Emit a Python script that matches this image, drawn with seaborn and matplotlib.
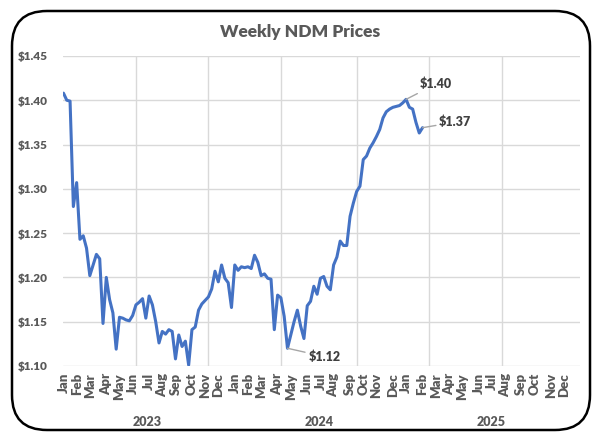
import pandas as pd
import numpy as np
import matplotlib
matplotlib.use("Agg")
import matplotlib.pyplot as plt
import matplotlib.dates as mdates
from matplotlib.ticker import FuncFormatter, FixedLocator
from matplotlib.patches import FancyBboxPatch
import seaborn as sns

# weekly NDM prices (first week of Jan 2023 to early Feb 2025)
prices = [
    1.408, 1.400, 1.399, 1.280, 1.307, 1.243, 1.247, 1.233, 1.202, 1.214,
    1.226, 1.221, 1.148, 1.200, 1.175, 1.160, 1.119, 1.155, 1.154, 1.152,
    1.151, 1.157, 1.169, 1.172, 1.176, 1.154, 1.179, 1.169, 1.150, 1.126,
    1.139, 1.136, 1.141, 1.139, 1.108, 1.135, 1.122, 1.128, 1.101, 1.141,
    1.144, 1.163, 1.170, 1.174, 1.178, 1.187, 1.207, 1.195, 1.214, 1.199,
    1.194, 1.166, 1.214, 1.208, 1.212, 1.211, 1.212, 1.210, 1.225, 1.217,
    1.202, 1.204, 1.199, 1.198, 1.141, 1.180, 1.177, 1.156, 1.120, 1.135,
    1.150, 1.163, 1.145, 1.131, 1.168, 1.173, 1.190, 1.181, 1.199, 1.201,
    1.190, 1.186, 1.214, 1.223, 1.241, 1.236, 1.236, 1.269, 1.284, 1.297,
    1.303, 1.333, 1.337, 1.346, 1.352, 1.359, 1.367, 1.380, 1.387, 1.390,
    1.392, 1.393, 1.394, 1.397, 1.401, 1.392, 1.390, 1.375, 1.363, 1.369,
]
start_date = "2023-01-06"
axis_weeks = 156          # the category axis runs to the end of 2025
y_ticks = [1.10, 1.15, 1.20, 1.25, 1.30, 1.35, 1.40, 1.45]
years = ["2023", "2024", "2025"]
grid_weeks = [22, 44, 66, 89, 111, 133]

dates = pd.date_range(start_date, periods=len(prices), freq="7D")
df = pd.DataFrame({"date": dates, "price": prices})

# month labels sit on the first week of each month (excel category axis)
all_weeks = pd.Series(pd.date_range(start_date, periods=axis_weeks, freq="7D"))
month_firsts = all_weeks.groupby(all_weeks.dt.to_period("M")).min()

sns.set_style("white")
plt.rcParams["font.family"] = ["Lato", "DejaVu Sans"]
W = 800  # Lato Heavy, closer to Excel's bold Calibri

text_color = "#595959"
grid_color = "#D9D9D9"

fig = plt.figure(figsize=(6, 4.37), dpi=100)
ax = fig.add_axes([0.105, 0.1625, 0.862, 0.7095])

sns.lineplot(data=df, x="date", y="price", ax=ax, color="#4472C4", linewidth=2.2)

ax.set_ylim(1.10, 1.45)
ax.set_xlim(pd.Timestamp("2023-01-05"), pd.Timestamp("2026-01-08"))
ax.set_yticks(y_ticks)
ax.yaxis.set_major_formatter(FuncFormatter(lambda v, p: f"${v:.2f}"))
ax.yaxis.grid(True, color=grid_color, linewidth=1)

ax.set_xticks(list(month_firsts))
ax.set_xticklabels([d.strftime("%b") for d in month_firsts])
grid_dates = [mdates.date2num(pd.Timestamp(start_date) + pd.Timedelta(weeks=w)) for w in grid_weeks]
ax.xaxis.set_minor_locator(FixedLocator(grid_dates))
ax.xaxis.grid(True, which="minor", color=grid_color, linewidth=1)
ax.xaxis.grid(False, which="major")

ax.tick_params(axis="x", which="both", length=0, rotation=90, labelsize=9.5,
               labelcolor=text_color, pad=5)
ax.tick_params(axis="y", length=0, labelsize=8.5, labelcolor=text_color, pad=11)
for lbl in ax.get_xticklabels() + ax.get_yticklabels():
    lbl.set_fontweight(W)

for s in ax.spines.values():
    s.set_visible(False)
ax.set_xlabel("")
ax.set_ylabel("")

# year labels under the month labels
for yr in years:
    ax.text(pd.Timestamp(f"{yr}-07-02"), -0.18, yr, transform=ax.get_xaxis_transform(),
            ha="center", va="center", fontsize=9, fontweight=W, color=text_color)

# data labels
peak_i = int(np.argmax(prices[60:])) + 60
low_i = int(np.argmin(prices[52:])) + 52
last_i = len(prices) - 1
label_style = dict(fontsize=9, fontweight=W, color="#404040",
                   arrowprops=dict(arrowstyle="-", color="#A6A6A6", lw=1, shrinkA=0, shrinkB=0))
ax.annotate(f"${prices[peak_i]:.2f}", xy=(dates[peak_i], prices[peak_i]), xytext=(10, 11),
            textcoords="offset points", ha="left", va="center", **label_style)
ax.annotate(f"${prices[last_i]:.2f}", xy=(dates[last_i], prices[last_i]), xytext=(12, 4),
            textcoords="offset points", ha="left", va="center", **label_style)
ax.annotate(f"${prices[low_i]:.2f}", xy=(dates[low_i], prices[low_i]), xytext=(15, -6),
            textcoords="offset points", ha="left", va="center", **label_style)

fig.text(0.5, 0.927, "Weekly NDM Prices", ha="center", va="center",
         fontsize=12.5, fontweight=W, color=text_color)

# rounded frame around the chart
frame = FancyBboxPatch((0.12, 0.07), 5.78, 4.19,
                       boxstyle="round,pad=0,rounding_size=0.35",
                       transform=fig.dpi_scale_trans, fill=False,
                       edgecolor="black", linewidth=1.8)
fig.patches.append(frame)

fig.savefig("out.png", dpi=100)
